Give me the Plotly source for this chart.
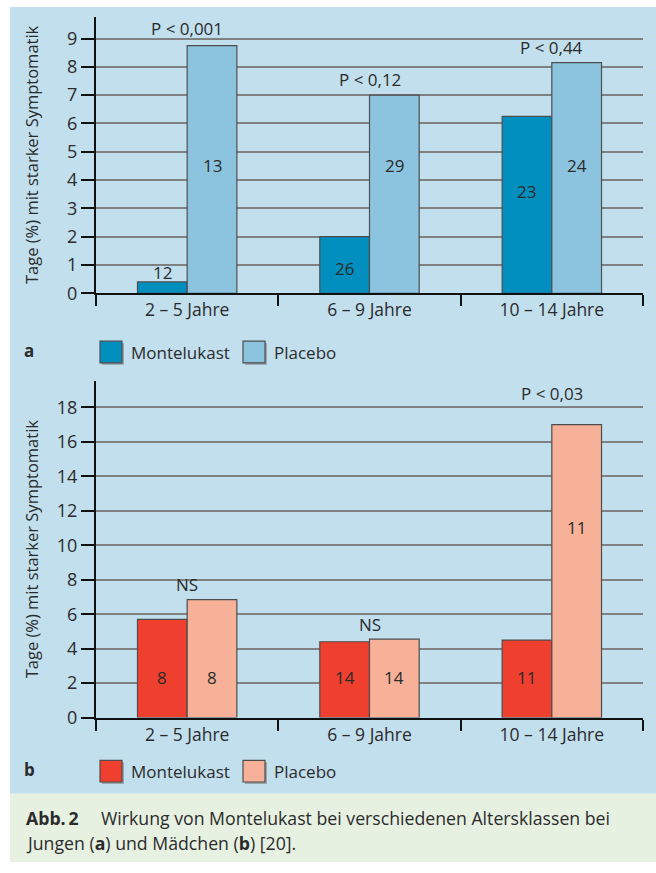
import plotly.graph_objects as go

# ---------------- data ----------------
age_groups = ["2 – 5 Jahre", "6 – 9 Jahre", "10 – 14 Jahre"]

a_montelukast = [0.4, 2.0, 6.25]
a_placebo = [8.75, 7.0, 8.15]
a_montelukast_n = ["12", "26", "23"]
a_placebo_n = ["13", "29", "24"]
a_montelukast_n_y = [0.72, 0.88, 3.6]
a_placebo_n_y = [4.5, 4.5, 4.5]
a_pvalues = ["P < 0,001", "P < 0,12", "P < 0,44"]
a_pvalues_y = [9.35, 7.57, 8.69]

b_montelukast = [5.7, 4.4, 4.5]
b_placebo = [6.85, 4.55, 17.0]
b_montelukast_n = ["8", "14", "11"]
b_placebo_n = ["8", "14", "11"]
b_montelukast_n_y = [2.3, 2.3, 2.3]
b_placebo_n_y = [2.3, 2.3, 11.05]
b_pvalues = ["NS", "NS", "P < 0,03"]
b_pvalues_y = [7.72, 5.43, 18.8]

a_ticks = list(range(0, 10))
b_ticks = list(range(0, 19, 2))

# ---------------- style ----------------
W, H = 656, 873
FONT = "Open Sans"
TXT = "#2b2b2b"
PANEL = "#c2dfee"
CAPTION_BG = "#e6f1e2"
A_MONT, A_PLAC = "#008fbf", "#8cc4df"
B_MONT, B_PLAC = "#ee3f2f", "#f7b198"
OUTLINE = "#4d4d4d"
GRID = "#808080"
BARGAP = 0.455
FS = 17


def fx(px):
    return px / W


def fy(py):
    return 1 - py / H


fig = go.Figure()

panels = [
    dict(xa="x", ya="y", mont=a_montelukast, plac=a_placebo, cm=A_MONT, cp=A_PLAC,
         mn=a_montelukast_n, pn=a_placebo_n, mny=a_montelukast_n_y, pny=a_placebo_n_y,
         pv=a_pvalues, pvy=a_pvalues_y),
    dict(xa="x2", ya="y2", mont=b_montelukast, plac=b_placebo, cm=B_MONT, cp=B_PLAC,
         mn=b_montelukast_n, pn=b_placebo_n, mny=b_montelukast_n_y, pny=b_placebo_n_y,
         pv=b_pvalues, pvy=b_pvalues_y),
]

annotations = []
half = (1 - BARGAP) / 4  # offset of each bar centre from the category centre
tfont = dict(size=FS, color=TXT, family=FONT)

for p in panels:
    fig.add_trace(go.Bar(x=age_groups, y=p["mont"], name="Montelukast", xaxis=p["xa"], yaxis=p["ya"],
                         marker=dict(color=p["cm"], line=dict(color=OUTLINE, width=1.2)),
                         showlegend=False, hoverinfo="skip"))
    fig.add_trace(go.Bar(x=age_groups, y=p["plac"], name="Placebo", xaxis=p["xa"], yaxis=p["ya"],
                         marker=dict(color=p["cp"], line=dict(color=OUTLINE, width=1.2)),
                         showlegend=False, hoverinfo="skip"))
    for i in range(len(age_groups)):
        annotations.append(dict(x=i - half, y=p["mny"][i], xref=p["xa"], yref=p["ya"], text=p["mn"][i],
                                xanchor="center", yanchor="middle", showarrow=False, font=tfont))
        annotations.append(dict(x=i + half, y=p["pny"][i], xref=p["xa"], yref=p["ya"], text=p["pn"][i],
                                xanchor="center", yanchor="middle", showarrow=False, font=tfont))
        annotations.append(dict(x=i, y=p["pvy"][i], xref=p["xa"], yref=p["ya"], text=p["pv"][i],
                                xanchor="center", yanchor="middle", showarrow=False, font=tfont))

# plot area geometry (window pixels)
PL, PR = 96, 643
A_TOP, A_BOT = 17, 297
B_TOP, B_BOT = 386, 726.7

xaxis_style = dict(type="category", showgrid=False, showline=True, linecolor="#111", linewidth=2,
                   ticks="outside", tickson="boundaries", ticklen=11, tickwidth=2, tickcolor="#111",
                   tickfont=dict(size=17.5, color=TXT, family=FONT), zeroline=False, fixedrange=True)
yaxis_style = dict(showgrid=True, gridcolor=GRID, gridwidth=2, showline=True, linecolor="#111",
                   linewidth=2, ticks="outside", ticklen=13, tickwidth=2, tickcolor="#111",
                   tickfont=dict(size=18, color=TXT, family=FONT), zeroline=False, fixedrange=True)

fig.update_layout(
    xaxis=dict(domain=[fx(PL), fx(PR)], anchor="y", **xaxis_style),
    yaxis=dict(domain=[fy(A_BOT), fy(A_TOP)], anchor="x", range=[0, 9.77], tickvals=a_ticks, **yaxis_style),
    xaxis2=dict(domain=[fx(PL), fx(PR)], anchor="y2", **xaxis_style),
    yaxis2=dict(domain=[fy(B_BOT), fy(B_TOP)], anchor="x2", range=[0, 19.53], tickvals=b_ticks, **yaxis_style),
)

shapes = [
    # panel backgrounds
    dict(type="rect", xref="paper", yref="paper", x0=fx(10), x1=1, y0=fy(804), y1=fy(7),
         fillcolor=PANEL, line=dict(width=0), layer="below"),
    dict(type="rect", xref="paper", yref="paper", x0=fx(10), x1=1, y0=0, y1=fy(804),
         fillcolor=CAPTION_BG, line=dict(width=0), layer="below"),
]

# y axis titles
for top, bot in [(A_TOP, A_BOT), (B_TOP, B_BOT)]:
    annotations.append(dict(x=fx(31), y=fy((top + bot) / 2), xref="paper", yref="paper",
                            xanchor="center", yanchor="middle",
                            text="Tage (%) mit starker Symptomatik", textangle=-90, showarrow=False,
                            font=dict(size=16.5, color=TXT, family=FONT)))

# legends
for letter, ymid, cm, cp in [("a", 356.5, A_MONT, A_PLAC), ("b", 781, B_MONT, B_PLAC)]:
    annotations.append(dict(x=fx(22), y=fy(ymid - 2), xref="paper", yref="paper", xanchor="left",
                            yanchor="middle", text="<b>" + letter + "</b>", showarrow=False, font=tfont))
    for x0, col, label in [(100, cm, "Montelukast"), (243, cp, "Placebo")]:
        shapes.append(dict(type="rect", xref="paper", yref="paper", x0=fx(x0 + 2), x1=fx(x0 + 24),
                           y0=fy(ymid + 13), y1=fy(ymid - 9), fillcolor="#9aa4aa", line=dict(width=0)))
        shapes.append(dict(type="rect", xref="paper", yref="paper", x0=fx(x0), x1=fx(x0 + 22),
                           y0=fy(ymid + 11), y1=fy(ymid - 11), fillcolor=col,
                           line=dict(color=OUTLINE, width=1.2)))
        annotations.append(dict(x=fx(x0 + 29), y=fy(ymid), xref="paper", yref="paper", xanchor="left",
                                yanchor="middle", text=label, showarrow=False, font=tfont))

# caption
cfont = dict(size=17.7, color=TXT, family=FONT)
annotations.append(dict(x=fx(24), y=fy(828), xref="paper", yref="paper", xanchor="left", yanchor="middle",
                        text="<b>Abb.\u20092</b>\u2003 Wirkung von Montelukast bei verschiedenen Altersklassen bei",
                        showarrow=False, font=cfont))
annotations.append(dict(x=fx(24), y=fy(854), xref="paper", yref="paper", xanchor="left", yanchor="middle",
                        text="Jungen (<b>a</b>) und Mädchen (<b>b</b>) [20].",
                        showarrow=False, font=cfont))

fig.update_layout(
    width=W, height=H, margin=dict(l=0, r=0, t=0, b=0),
    paper_bgcolor="white", plot_bgcolor="white",
    barmode="group", bargap=BARGAP, bargroupgap=0,
    font=dict(family=FONT, color=TXT),
    shapes=shapes, annotations=annotations, showlegend=False,
)

# remove the default 8px page margin so the figure fills the window exactly
fig.write_html("out.html", config={"displayModeBar": False},
               post_script="document.body.style.margin='0';document.body.style.overflow='hidden';")
